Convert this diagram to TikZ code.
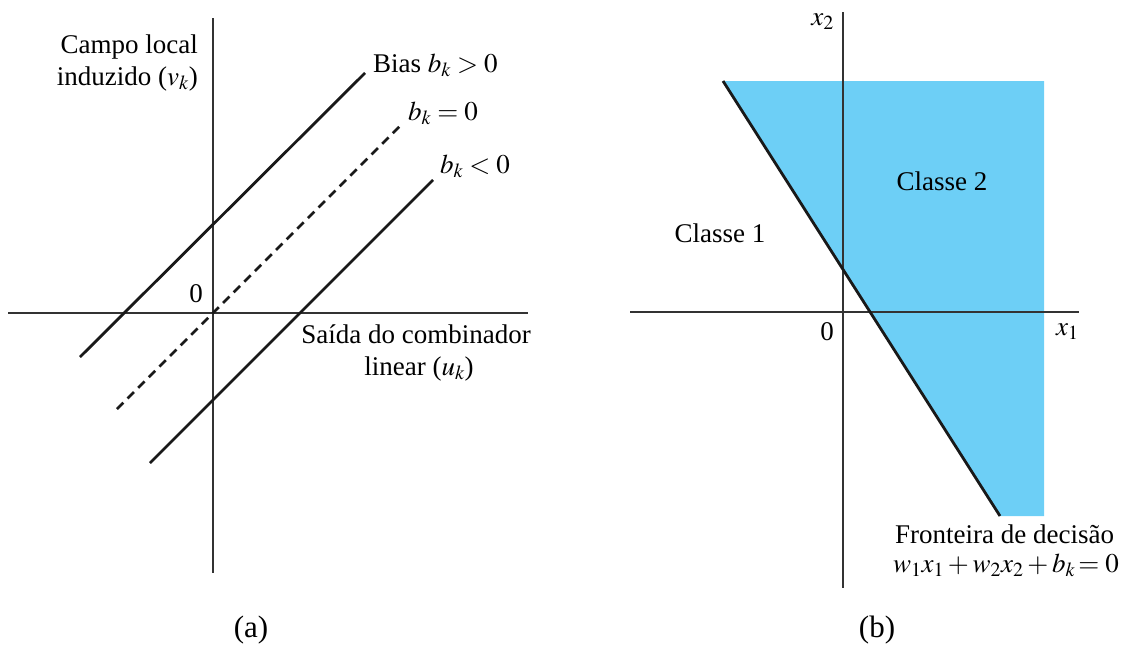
\documentclass[tikz,border=0pt]{standalone}
\usepackage{mathptmx}
\usepackage{fontspec}
\setmainfont{Liberation Serif}
\definecolor{regblue}{HTML}{6DCFF6}
\begin{document}
\begin{tikzpicture}[x=1pt,y=-1pt,
  axis/.style={line width=1.4pt, draw=black!80},
  rline/.style={line width=2.8pt, draw=black!90},
  dline/.style={line width=2.8pt, draw=black!90, dash pattern=on 9pt off 6pt},
  lbl/.style={inner sep=0pt, font=\fontsize{27}{32}\selectfont},
  captionlbl/.style={inner sep=0pt, font=\fontsize{31}{36}\selectfont}]
\useasboundingbox (0,0) rectangle (1128,645);
% ---------- panel (a) ----------
\coordinate (avt) at (213,18);
\coordinate (avb) at (213,573);
\coordinate (ahl) at (8,313);
\coordinate (ahr) at (528,313);
\draw[axis] (avt) -- (avb);
\draw[axis] (ahl) -- (ahr);
\coordinate (p1) at (80,357);
\coordinate (p2) at (365,73);
\coordinate (z1) at (117,409);
\coordinate (z2) at (402,124);
\coordinate (n1) at (150,463);
\coordinate (n2) at (433,180);
\draw[rline] (p1) -- (p2);
\draw[dline] (z1) -- (z2);
\draw[rline] (n1) -- (n2);
\node[lbl, anchor=base west] (lp) at (373,72) {Bias $b_k > 0$};
\node[lbl, anchor=base west] (lz) at (408,120) {$b_k = 0$};
\node[lbl, anchor=base west] (ln) at (440,173) {$b_k < 0$};
\node[lbl, anchor=base] (a0) at (196,302) {0};
\node[lbl, anchor=base east] (ya1) at (198,53) {Campo local};
\node[lbl, anchor=base east] (ya2) at (198,85) {induzido ($v_k$)};
\node[lbl, anchor=base] (xa1) at (416,343) {Saída do combinador};
\node[lbl, anchor=base] (xa2) at (419,375) {linear ($u_k$)};
\node[captionlbl, anchor=base] (capa) at (251,637) {(a)};
% ---------- panel (b) ----------
\coordinate (r1) at (723,81);
\coordinate (r2) at (1044,81);
\coordinate (r3) at (1044,516);
\coordinate (r4) at (1000,516);
\fill[regblue] (r1) -- (r2) -- (r3) -- (r4) -- cycle;
\coordinate (bvt) at (843,12);
\coordinate (bvb) at (843,588);
\coordinate (bhl) at (630,312);
\coordinate (bhr) at (1079,312);
\draw[axis] (bvt) -- (bvb);
\draw[axis] (bhl) -- (bhr);
\draw[rline] (r1) -- (r4);
\node[lbl, anchor=base east] (x2) at (834,25) {$x_2$};
\node[lbl, anchor=base east] (b0) at (834,340) {0};
\node[lbl, anchor=base west] (x1) at (1056,335) {$x_1$};
\node[lbl, anchor=base] (c2) at (942,190) {Classe 2};
\node[lbl, anchor=base] (c1) at (720,242) {Classe 1};
\node[lbl, anchor=base west] (fr) at (895,543) {Fronteira de decisão};
\node[lbl, anchor=base west] (eq) at (893,572) {$w_1x_1 \mathbin{+} w_2x_2 \mathbin{+} b_k\!= 0$};
\node[captionlbl, anchor=base] (capb) at (877,637) {(b)};
\end{tikzpicture}
\end{document}
